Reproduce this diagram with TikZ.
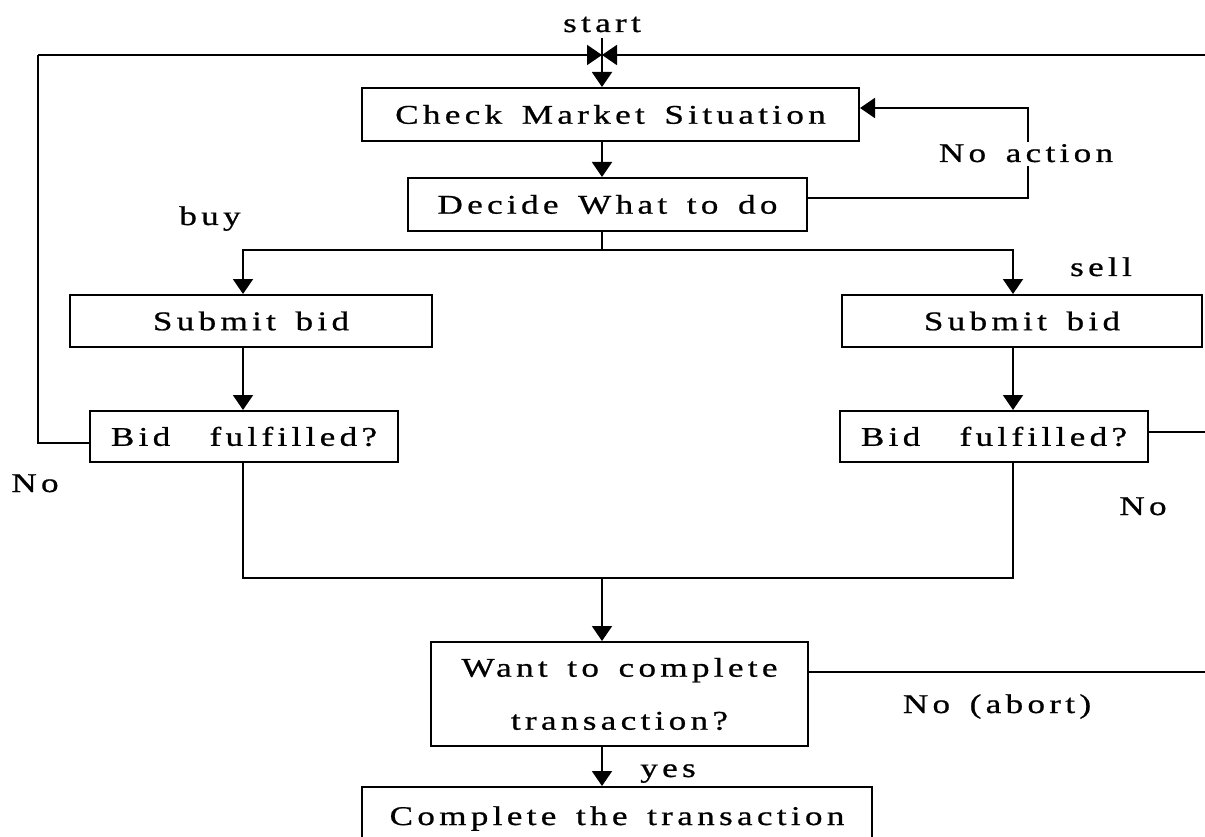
\documentclass[tikz,border=0pt]{standalone}
\usepackage{fontspec}
\setmainfont{Liberation Serif}[LetterSpace=16, FakeStretch=1.3, WordSpace=1.5, FakeBold=0.8]
\usetikzlibrary{arrows.meta}

\tikzset{
  box/.style={draw, line width=2pt, inner sep=0pt, align=center},
  conn/.style={line width=2pt},
  arr/.style={conn, -{Triangle[length=15pt,width=20pt]}},
  lbl/.style={anchor=base, inner sep=0pt}
}

\begin{document}
\begin{tikzpicture}[x=1pt, y=-1pt, font=\fontsize{27}{30}\selectfont]
\useasboundingbox (0,0) rectangle (1205,837);

% process boxes
\node[box, minimum width=497pt, minimum height=53pt] (check)  at (610.5,114.5) {Check Market Situation};
\node[box, minimum width=399pt, minimum height=53pt] (decide) at (607.5,204.5) {Decide What to do};
\node[box, minimum width=362pt, minimum height=52pt] (sbL)    at (251,321)     {Submit bid};
\node[box, minimum width=360pt, minimum height=52pt] (sbR)    at (1022,321)    {Submit bid};
\node[box, minimum width=308pt, minimum height=51pt] (bfL)    at (244,436.5)   {Bid\ \ fulfilled?};
\node[box, minimum width=308pt, minimum height=51pt] (bfR)    at (994,436.5)   {Bid\ \ fulfilled?};
\node[box, minimum width=377pt, minimum height=104pt] (want)  at (619.5,694)   {Want to complete\\[23pt]transaction?};
\node[box, minimum width=510pt, minimum height=80pt, text height=18pt, text depth=22pt] (done) at (617,827) {Complete the transaction};

% labels
\node[lbl] (lstart) at (602,32)   {start};
\node[lbl] (lbuy)   at (210,225)  {buy};
\node[lbl] (lsell)  at (1101,276) {sell};
\node[lbl] (lnoL)   at (35,492)   {No};
\node[lbl] (lnoR)   at (1143,515) {No};
\node[lbl] (labort) at (997,713)  {No (abort)};
\node[lbl] (lyes)   at (668,777)  {yes};
\node[inner sep=3pt] (na) at (1028,154) {\phantom{No}};
\node[lbl] (lna) at (1026,162) {No action};

% reference points of the wiring
\coordinate (st)   at (602,55);
\coordinate (sttop) at (602,38);
\coordinate (ltop) at (38,55);
\coordinate (rtop) at (1205,55);
\coordinate (naA)  at (1028,198);
\coordinate (naB)  at (1028,108);
\coordinate (sp)   at (602,250);
\coordinate (xl)   at (243,0);
\coordinate (xr)   at (1013,0);
\coordinate (jn)   at (602,578);
\coordinate (lno)  at (38,443);
\coordinate (rbf)  at (1205,432);
\coordinate (rw)   at (1205,672);

% entry point
\draw[arr] (sttop) -- (check.north -| sttop);
\draw[arr] (ltop) -- (st);
\draw[arr] (rtop) -- (st);
\draw[arr] (check.south -| st) -- (decide.north -| st);

% no action loop
\draw[conn] (decide.east |- naA) -- (naA) -- (na.south);
\draw[arr] (na.north) -- (naB) -- (check.east |- naB);

% buy / sell branches
\draw[conn] (decide.south -| sp) -- (sp);
\draw[arr] (sp) -| (sbL.north -| xl);
\draw[arr] (sp) -| (sbR.north -| xr);
\draw[arr] (sbL.south -| xl) -- (bfL.north -| xl);
\draw[arr] (sbR.south -| xr) -- (bfR.north -| xr);

% unfulfilled bids
\draw[conn] (bfL.west |- lno) -- (lno) -- (ltop);
\draw[conn] (bfR.east |- rbf) -- (rbf);

% fulfilled bids join
\draw[conn] (bfL.south -| xl) -- (xl |- jn) -- (xr |- jn) -- (bfR.south -| xr);
\draw[arr] (jn) -- (want.north -| jn);

% completion
\draw[conn] (want.east |- rw) -- (rw);
\draw[arr] (want.south -| jn) -- (done.north -| jn);
\end{tikzpicture}
\end{document}
